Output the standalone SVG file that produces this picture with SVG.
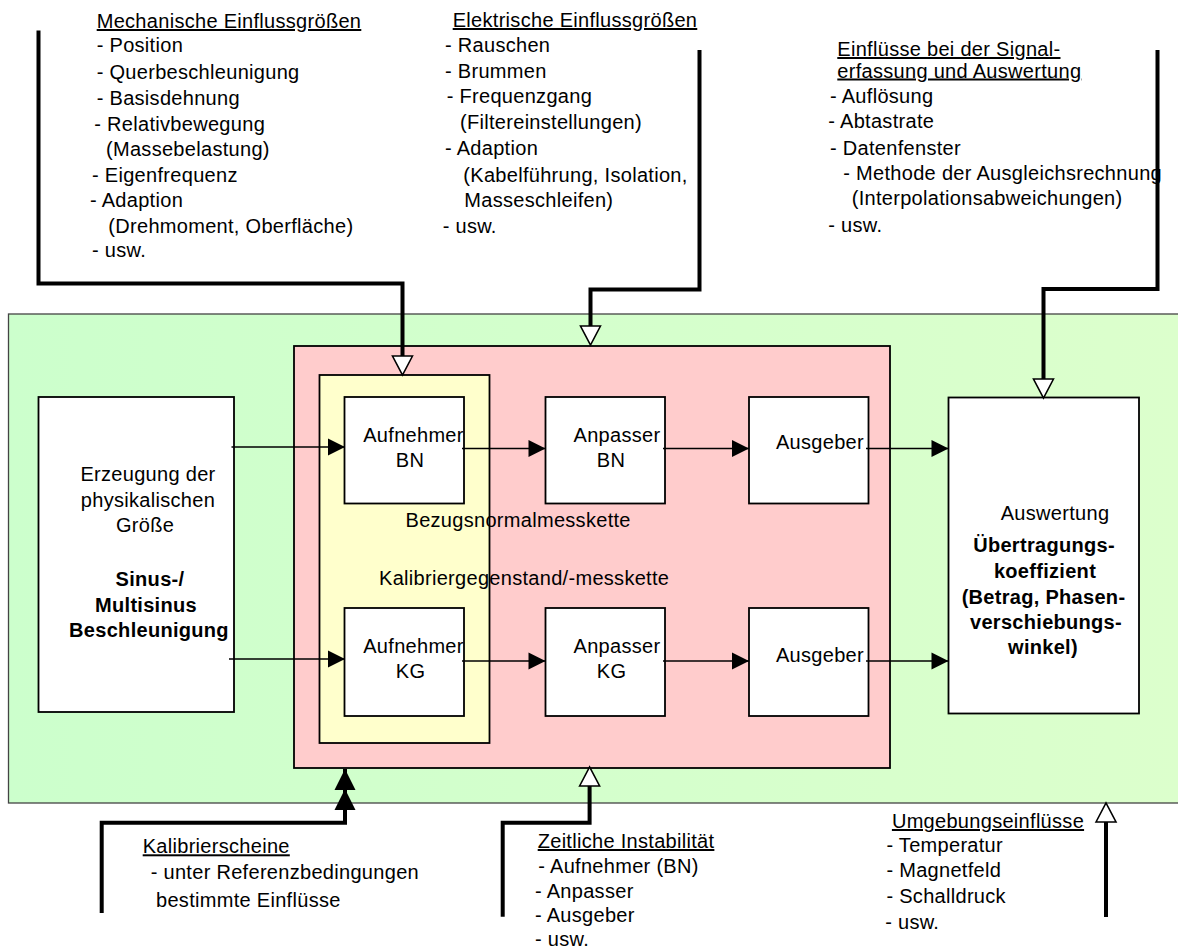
<svg xmlns="http://www.w3.org/2000/svg" width="1178" height="952" viewBox="0 0 1178 952">
<defs>
<linearGradient id="gGreen" x1="0" y1="0" x2="1" y2="0"><stop offset="0" stop-color="#CCFFCC"/><stop offset="1" stop-color="#DCFFCC"/></linearGradient>
<marker id="ah" markerUnits="userSpaceOnUse" markerWidth="18" markerHeight="18" viewBox="0 0 18 18" refX="17" refY="9" orient="auto" overflow="visible"><path d="M0,0.5 L17,9 L0,17.5 Z" fill="#000"/></marker>
<marker id="big" markerUnits="userSpaceOnUse" markerWidth="22" markerHeight="22" viewBox="0 0 22 22" refX="21" refY="11" orient="auto" overflow="visible"><path d="M0,0.5 L21,11 L0,21.5 Z" fill="#000"/></marker>
<marker id="hollow" markerUnits="userSpaceOnUse" markerWidth="22" markerHeight="22" viewBox="0 0 22 22" refX="0" refY="10" orient="auto" overflow="visible"><path d="M0,0 L19,10 L0,20 Z" fill="#fff" stroke="#000" stroke-width="1.6" stroke-linejoin="miter"/></marker>
<style>
text{font-family:"Liberation Sans",Arial,sans-serif;font-size:20px;fill:#000;letter-spacing:0.3px}
.b{font-weight:bold}
.m{text-anchor:middle}
.u{text-decoration:underline}
.box{fill:#fff;stroke:#000;stroke-width:1.8}
.thin{fill:none;stroke:#000;stroke-width:1.5;marker-end:url(#ah)}
.thick{fill:none;stroke:#000;stroke-width:4;stroke-linejoin:miter}
</style>
</defs>
<rect x="0" y="0" width="1178" height="952" fill="#fff"/>

<g id="umgebung-rahmen"><rect x="8.5" y="314" width="1175" height="489" fill="url(#gGreen)" stroke="#444" stroke-width="1.3"/></g>
<g id="messkette"><rect x="294" y="346" width="596" height="422" fill="#FFCCCC" stroke="#000" stroke-width="1.8"/></g>
<g id="kalibriergegenstand"><rect x="319.5" y="375" width="170" height="368" fill="#FFFFCC" stroke="#000" stroke-width="1.8"/></g>

<g id="erzeugung">
<rect class="box" x="38.5" y="397" width="195.5" height="315"/>
<text class="m" x="148" y="480.5">Erzeugung der</text>
<text class="m" x="148" y="506.5">physikalischen</text>
<text class="m" x="145" y="531.5">Größe</text>
<text class="m b" x="150" y="586">Sinus-/</text>
<text class="m b" x="146" y="611.5">Multisinus</text>
<text class="m b" x="149" y="637">Beschleunigung</text>
</g>

<g id="aufnehmer-bn">
<rect class="box" x="344.5" y="397" width="119.5" height="106.5"/>
<text class="m" x="413.5" y="442">Aufnehmer</text>
<text class="m" x="410" y="467">BN</text>
</g>
<g id="anpasser-bn">
<rect class="box" x="545.5" y="397" width="119.5" height="106.5"/>
<text class="m" x="617" y="442">Anpasser</text>
<text class="m" x="611" y="467">BN</text>
</g>
<g id="ausgeber-bn">
<rect class="box" x="749" y="397" width="119.5" height="106.5"/>
<text class="m" x="820" y="449">Ausgeber</text>
</g>

<g id="aufnehmer-kg">
<rect class="box" x="344.5" y="608" width="119.5" height="108"/>
<text class="m" x="413.5" y="653">Aufnehmer</text>
<text class="m" x="410.5" y="678">KG</text>
</g>
<g id="anpasser-kg">
<rect class="box" x="545.5" y="608" width="119.5" height="108"/>
<text class="m" x="617" y="653">Anpasser</text>
<text class="m" x="611.5" y="678">KG</text>
</g>
<g id="ausgeber-kg">
<rect class="box" x="749" y="608" width="119.5" height="108"/>
<text class="m" x="820" y="662">Ausgeber</text>
</g>

<g id="auswertung">
<rect class="box" x="948.5" y="397.5" width="190.5" height="316"/>
<text class="m" x="1055" y="519.5">Auswertung</text>
<text class="m b" x="1044" y="552">Übertragungs-</text>
<text class="m b" x="1045" y="578">koeffizient</text>
<text class="m b" x="1043.5" y="603.5">(Betrag, Phasen-</text>
<text class="m b" x="1046" y="628.5">verschiebungs-</text>
<text class="m b" x="1043" y="653.5">winkel)</text>
</g>

<g id="kettenbeschriftung">
<text x="405.5" y="527">Bezugsnormalmesskette</text>
<text x="379" y="585">Kalibriergegenstand/-messkette</text>
</g>

<g id="connectors">
<path class="thin" d="M231.5,447 H345"/>
<path class="thin" d="M462,448.5 H545.5"/>
<path class="thin" d="M663,448.5 H749"/>
<path class="thin" d="M866,448.5 H948.5"/>
<path class="thin" d="M229,659 H345"/>
<path class="thin" d="M462,661 H545.5"/>
<path class="thin" d="M663,661 H749"/>
<path class="thin" d="M866,661 H948.5"/>
<path class="thick" d="M38.5,30.5 V283.5 H402.5 V356" marker-end="url(#hollow)"/>
<path class="thick" d="M699.5,50 V289.5 H590.5 V326" marker-end="url(#hollow)"/>
<path class="thick" d="M1157.5,50 V289 H1043.5 V379" marker-end="url(#hollow)"/>
<path class="thick" d="M101.7,913 V822.7 H345 V769" marker-end="url(#big)"/>
<path class="thick" d="M345,800 V789" marker-end="url(#big)"/>
<path class="thick" d="M502.7,916.7 V822.7 H589.6 V786" marker-end="url(#hollow)"/>
<path class="thick" d="M1106,917 V822" marker-end="url(#hollow)"/>
</g>

<g id="mechanische-einfluesse">
<text class="u" x="96.7" y="28">Mechanische Einflussgrößen</text>
<text x="96.7" y="52">- Position</text>
<text x="96.7" y="79">- Querbeschleunigung</text>
<text x="96.7" y="104.5">- Basisdehnung</text>
<text x="94.3" y="130.5">- Relativbewegung</text>
<text x="106" y="156">(Massebelastung)</text>
<text x="92" y="181.5">- Eigenfrequenz</text>
<text x="90" y="207">- Adaption</text>
<text x="108.3" y="233">(Drehmoment, Oberfläche)</text>
<text x="92" y="257">- usw.</text>
</g>

<g id="elektrische-einfluesse">
<text class="u" x="452.7" y="27">Elektrische Einflussgrößen</text>
<text x="445" y="51.7">- Rauschen</text>
<text x="445" y="78.3">- Brummen</text>
<text x="446.7" y="103.3">- Frequenzgang</text>
<text x="460" y="129.3">(Filtereinstellungen)</text>
<text x="445" y="155">- Adaption</text>
<text x="463.3" y="181.7">(Kabelführung, Isolation,</text>
<text x="464.3" y="207.3">Masseschleifen)</text>
<text x="442.7" y="232.7">- usw.</text>
</g>

<g id="signal-einfluesse">
<text class="u" x="837.3" y="56">Einflüsse bei der Signal-</text>
<text class="u" x="837.3" y="77.5">erfassung und Auswertung</text>
<text x="830" y="103.3">- Auflösung</text>
<text x="828.3" y="128.3">- Abtastrate</text>
<text x="830" y="155">- Datenfenster</text>
<text x="843.3" y="180">- Methode der Ausgleichsrechnung</text>
<text x="851.7" y="205">(Interpolationsabweichungen)</text>
<text x="828.3" y="232.3">- usw.</text>
</g>

<g id="kalibrierscheine">
<text class="u" x="142.7" y="853.3">Kalibrierscheine</text>
<text x="150.7" y="879">- unter Referenzbedingungen</text>
<text x="156" y="906.7">bestimmte Einflüsse</text>
</g>

<g id="zeitliche-instabilitaet">
<text class="u" x="537.7" y="848">Zeitliche Instabilität</text>
<text x="538.3" y="873">- Aufnehmer (BN)</text>
<text x="535" y="897.5">- Anpasser</text>
<text x="535" y="922">- Ausgeber</text>
<text x="535" y="946">- usw.</text>
</g>

<g id="umgebungseinfluesse">
<text class="u" x="891.9" y="828">Umgebungseinflüsse</text>
<text x="886.4" y="852">- Temperatur</text>
<text x="886.4" y="877">- Magnetfeld</text>
<text x="886.4" y="903">- Schalldruck</text>
<text x="885.2" y="929">- usw.</text>
</g>
</svg>
